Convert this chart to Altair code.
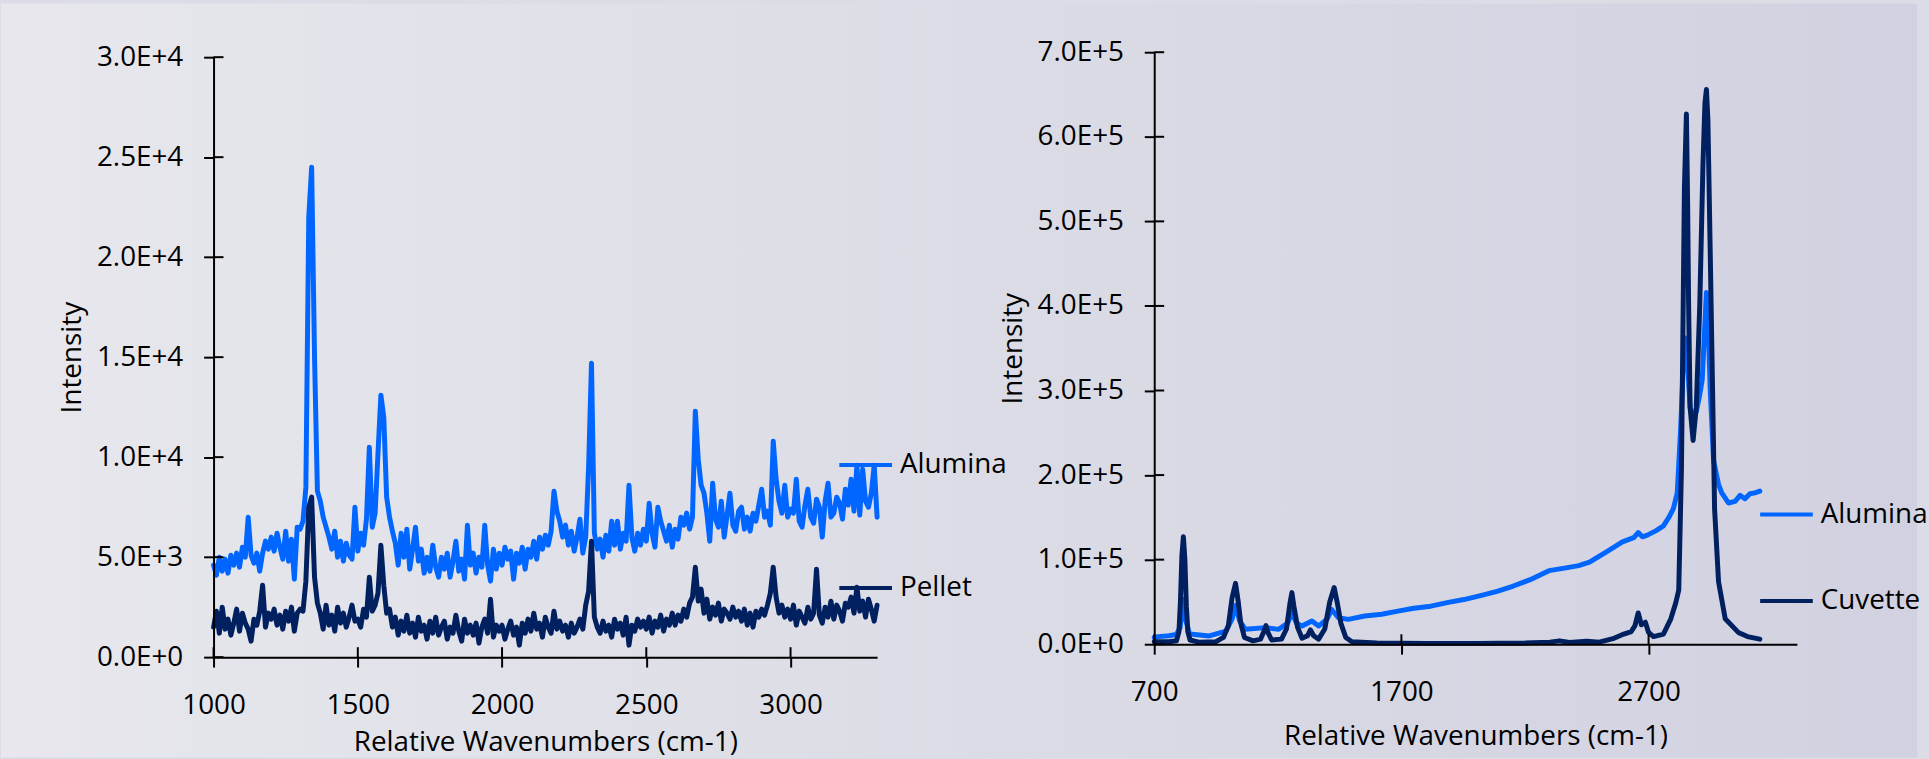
import altair as alt
import pandas as pd

FONT = "Open Sans"
ALU = "#0066ff"
NAVY = "#002060"
TXT = "#000000"

# ---------------- left panel data (intensity in thousands) ----------------
left_wn = list(range(1000, 3301, 10))
left_alumina_k = [
    4.6, 4.1, 5.0, 4.3, 4.9, 4.2, 5.1, 4.6, 5.2, 4.5,
    5.5, 5.0, 7.0, 5.1, 4.7, 5.2, 4.3, 5.2, 5.8, 5.4,
    6.0, 5.3, 6.2, 5.5, 4.9, 6.3, 4.8, 5.9, 3.9, 6.5,
    6.4, 6.8, 8.5, 22.0, 24.5, 15.0, 8.3, 7.8, 7.0, 6.5,
    6.0, 5.4, 6.3, 5.0, 5.8, 4.8, 5.7, 5.1, 4.9, 7.5,
    5.3, 6.2, 5.6, 6.9, 10.5, 6.5, 7.2, 10.2, 13.1, 12.0,
    8.0, 7.0, 6.3, 5.7, 4.6, 6.2, 5.0, 6.4, 4.4, 5.4,
    6.5, 4.8, 5.4, 4.2, 5.0, 4.3, 5.6, 4.5, 4.0, 5.0,
    4.4, 5.2, 4.0, 4.8, 5.8, 4.3, 4.9, 3.9, 6.6, 4.6,
    5.2, 4.2, 5.0, 4.5, 6.6, 4.6, 3.8, 5.4, 4.4, 5.2,
    4.6, 5.5, 4.9, 5.3, 3.9, 5.2, 4.7, 5.5, 4.4, 5.4,
    5.0, 5.8, 4.9, 6.0, 5.4, 6.1, 5.6, 6.3, 8.3, 7.3,
    6.8, 6.0, 6.6, 5.6, 6.3, 5.3, 6.0, 6.9, 5.2, 6.0,
    9.5, 14.7, 6.2, 5.4, 5.9, 5.0, 6.1, 5.3, 6.8, 5.6,
    6.8, 5.4, 6.2, 5.8, 8.6, 6.0, 5.3, 6.2, 5.6, 6.4,
    5.8, 7.7, 6.2, 5.5, 7.5, 6.8, 6.3, 5.8, 6.6, 5.5,
    6.4, 5.9, 7.0, 6.6, 7.2, 6.4, 7.0, 12.3, 9.9, 8.6,
    8.2, 7.2, 5.8, 8.7, 6.9, 6.5, 7.8, 6.0, 7.1, 8.2,
    6.6, 6.3, 7.3, 7.5, 6.4, 7.0, 6.3, 7.2, 6.8, 7.6,
    8.4, 7.0, 7.3, 6.6, 10.8, 8.9, 7.8, 7.2, 8.6, 7.0,
    7.4, 7.2, 8.9, 6.8, 6.5, 7.6, 8.4, 7.0, 6.7, 7.9,
    7.5, 6.0, 7.8, 8.7, 7.0, 7.2, 8.0, 7.7, 6.9, 8.4,
    7.6, 8.9, 7.3, 9.6, 7.1, 9.4, 7.8, 7.5, 8.2, 9.6,
    7.0,
]
left_pellet_k = [
    1.5, 2.3, 1.2, 2.5, 1.4, 1.9, 1.1, 1.7, 2.4, 1.3,
    2.2, 1.7, 1.4, 0.8, 1.9, 1.6, 2.3, 3.6, 1.5, 2.2,
    1.9, 2.4, 1.6, 2.1, 1.4, 2.3, 1.8, 2.5, 1.3, 2.2,
    2.4, 2.3, 3.8, 7.5, 8.0, 4.0, 2.7, 2.2, 1.4, 2.6,
    1.6, 2.1, 1.3, 2.5, 1.7, 2.2, 1.5, 2.0, 2.6, 1.8,
    1.9, 1.5, 2.4, 2.0, 4.0, 2.3, 2.6, 3.2, 5.6, 3.6,
    2.2, 2.4, 1.5, 2.0, 1.1, 1.8, 1.3, 2.1, 1.2, 1.7,
    1.0, 2.0, 1.3, 1.6, 0.9, 1.8, 1.2, 2.0, 1.1, 1.5,
    1.8, 0.9, 1.5, 1.2, 2.1, 1.3, 0.8, 1.9, 1.2, 1.6,
    1.1, 1.7, 0.7, 1.5, 1.9, 1.2, 2.9, 1.0, 1.6, 1.3,
    1.6, 0.9, 1.4, 1.8, 1.1, 1.5, 0.6, 1.7, 1.2, 1.9,
    1.3, 2.2, 1.4, 1.7, 1.0, 2.0, 1.5, 1.2, 2.3, 1.4,
    1.8, 1.3, 1.6, 1.0, 1.7, 1.2, 1.5, 1.9, 1.4, 2.6,
    3.3, 5.8, 2.0, 1.5, 1.2, 1.8, 1.3, 1.6, 1.0, 1.9,
    1.4, 1.7, 1.1, 2.0, 0.6, 1.6, 1.3, 1.9, 1.5, 1.8,
    1.4, 2.0, 1.2, 1.8, 1.5, 2.1, 1.3, 1.9, 1.6, 2.2,
    1.6, 2.1, 1.8, 2.4, 2.0, 2.7, 3.0, 4.5, 2.8, 3.4,
    2.2, 2.9, 1.9, 2.5, 2.1, 2.7, 1.8, 2.4, 2.2, 1.9,
    2.5, 2.0, 2.3, 1.8, 2.4, 1.6, 2.2, 1.5, 2.3, 2.0,
    2.4, 2.1, 2.6, 3.2, 4.5, 3.0, 2.2, 2.6, 2.0, 2.4,
    1.9, 2.6, 1.6, 2.3, 2.0, 1.7, 2.5, 1.9, 2.2, 4.4,
    2.1, 1.7, 2.5, 2.0, 2.8, 1.9, 2.6, 2.3, 1.8, 2.7,
    2.5, 3.0, 2.2, 3.5, 2.3, 2.8, 2.0, 2.9, 2.4, 1.8,
    2.6,
]

# ---------------- right panel data (intensity in thousands) ----------------
right_cuv_wn = [700, 760, 790, 800, 806, 812, 818, 824, 830, 836, 845, 880, 950, 980,
                1000, 1015, 1029, 1040, 1050, 1065, 1100, 1130, 1145, 1152, 1160, 1175,
                1215, 1235, 1250, 1257, 1265, 1280, 1298, 1320, 1332, 1345, 1365, 1390,
                1410, 1428, 1440, 1455, 1475, 1500, 1600, 1800, 2000, 2200, 2300, 2340,
                2380, 2450, 2500, 2560, 2600, 2630, 2645, 2658, 2671, 2687, 2700, 2720,
                2760, 2790, 2810, 2822, 2833, 2840, 2845, 2853, 2858, 2862, 2868, 2880,
                2893, 2907, 2920, 2928, 2934, 2940, 2949, 2956, 2967, 2983, 3010, 3063,
                3100, 3150]
right_cuv_k = [3, 3, 4, 15, 50, 105, 127, 100, 45, 15, 5, 2.5, 3, 8,
               22, 55, 72, 50, 25, 8, 4, 6, 16, 22, 14, 5,
               6, 18, 50, 61, 45, 20, 7, 10, 17, 10, 6, 18,
               50, 67, 50, 25, 8, 3, 1.5, 1, 1, 1.5, 2.5, 4,
               2, 3.5, 2.5, 7, 12, 15, 22, 37, 23, 26, 14, 9,
               12, 30, 49, 64, 208, 400, 540, 627, 520, 400, 280, 241,
               280, 400, 567, 640, 656, 620, 470, 350, 160, 74, 30, 14,
               9, 6]
right_alu_wn = [700, 716, 760, 790, 805, 812, 818, 826, 843, 923, 990, 1015, 1030, 1045,
                1069, 1151, 1204, 1240, 1258, 1275, 1298, 1338, 1365, 1400, 1418, 1445,
                1485, 1552, 1620, 1686, 1750, 1819, 1890, 1953, 2020, 2087, 2150, 2221,
                2297, 2360, 2417, 2461, 2528, 2594, 2640, 2658, 2675, 2695, 2729, 2760,
                2782, 2800, 2816, 2830, 2843, 2849, 2858, 2868, 2880, 2893, 2907, 2917,
                2928, 2934, 2940, 2949, 2963, 2983, 2996, 3023, 3050, 3070, 3090, 3110,
                3130, 3150]
right_alu_k = [8, 9, 10, 11.7, 20, 40, 53, 30, 12, 9.8, 15.6, 30, 46, 28,
               17.6, 19.6, 17.6, 25, 37.6, 25, 21.5, 27.4, 21.5, 30, 41, 31.3,
               29.4, 33.3, 35.5, 39.1, 42.5, 45, 49.5, 52.8, 57.5, 62.6, 68.5, 76.3,
               87, 90, 93, 97, 109, 121, 126, 132, 127, 129, 134, 140,
               150, 160, 179, 256, 350, 362, 330, 280, 270, 275, 295, 313,
               380, 416, 390, 303, 217, 189, 179, 167, 169, 176, 172, 178,
               179, 181]

left_x_ticks = [1000, 1500, 2000, 2500, 3000]
left_y_ticks = [0, 5000, 10000, 15000, 20000, 25000, 30000]
right_x_ticks = [700, 1700, 2700]
right_y_ticks = [0, 100000, 200000, 300000, 400000, 500000, 600000, 700000]

left_df = pd.DataFrame({
    "wn": left_wn + left_wn,
    "intensity": [v * 1000 for v in left_alumina_k] + [v * 1000 for v in left_pellet_k],
    "series": ["Alumina"] * len(left_wn) + ["Pellet"] * len(left_wn),
})
right_df = pd.DataFrame({
    "wn": right_alu_wn + right_cuv_wn,
    "intensity": [v * 1000 for v in right_alu_k] + [v * 1000 for v in right_cuv_k],
    "series": ["Alumina"] * len(right_alu_wn) + ["Cuvette"] * len(right_cuv_wn),
})

# ---------------- layout (pixels) ----------------
LW, LH = 668, 609      # left plot
RW, RH = 647, 596      # right plot
SPACING = 279
PAGE_W, PAGE_H = 1929, 759
ORIGIN_X, ORIGIN_Y = 214, 49

LABEL_EXPR = "replace(format(datum.value, '.1e'), 'e', 'E')"
X_TITLE = "Relative Wavenumbers (cm-1)"


def x_axis(values, title_pad):
    return alt.Axis(values=values, title=X_TITLE, grid=False, format="d", zindex=2,
                    tickSize=10, tickWidth=2, tickColor="black",
                    domainColor="black", domainWidth=2,
                    labelFont=FONT, labelFontSize=28, labelColor=TXT, labelPadding=25,
                    labelFlush=False, labelOverlap=False,
                    titleFont=FONT, titleFontSize=28, titleFontWeight="normal",
                    titleColor=TXT, titlePadding=title_pad)


def y_axis(values):
    return alt.Axis(values=values, title="Intensity", grid=False, labelExpr=LABEL_EXPR,
                    zindex=2,
                    tickSize=10, tickWidth=2, tickColor="black",
                    domainColor="black", domainWidth=2,
                    labelFont=FONT, labelFontSize=28, labelColor=TXT, labelPadding=21,
                    labelOverlap=False,
                    titleFont=FONT, titleFontSize=28, titleFontWeight="normal",
                    titleColor=TXT, titlePadding=10)


def legend(x, y, row_pad):
    return alt.Legend(orient="none", legendX=x, legendY=y, title=None, padding=0,
                      symbolType="stroke", symbolSize=2809, symbolStrokeWidth=4,
                      labelFont=FONT, labelFontSize=28, labelColor=TXT, labelOffset=6,
                      rowPadding=row_pad, labelLimit=400)


gradient = alt.LinearGradient(
    gradient="linear",
    stops=[alt.GradientStop(color="#e7e7ed", offset=0),
           alt.GradientStop(color="#dcdce6", offset=0.5),
           alt.GradientStop(color="#d1d1e1", offset=1)],
    x1=0, x2=1, y1=0, y2=0,
)

bg = alt.Chart(alt.Data(values=[{"k": 0}])).mark_rect(fill=gradient, strokeWidth=0).encode(
    x=alt.value(-ORIGIN_X), x2=alt.value(PAGE_W - ORIGIN_X),
    y=alt.value(-ORIGIN_Y), y2=alt.value(PAGE_H - ORIGIN_Y),
)


def panel(df, x_dom, y_dom, y_range, h, xt, yt, dom, leg, title_pad):
    xs = alt.Scale(domain=x_dom, nice=False, zero=False)
    ys = alt.Scale(domain=y_dom, nice=False, zero=False, range=y_range)
    xa = x_axis(xt, title_pad)
    ya = y_axis(yt)
    lines = alt.Chart(df).mark_line(strokeWidth=5, strokeJoin="round", strokeCap="round").encode(
        x=alt.X("wn:Q", scale=xs, axis=xa),
        y=alt.Y("intensity:Q", scale=ys, axis=ya),
        color=alt.Color("series:N", scale=alt.Scale(domain=dom, range=[ALU, NAVY]), legend=leg),
        detail="series:N",
    )
    ytick = alt.Chart(pd.DataFrame({"v": yt})).mark_rule(color="black", strokeWidth=2).encode(
        y=alt.Y("v:Q", scale=ys, axis=ya, title="Intensity"), x=alt.value(0), x2=alt.value(10))
    xtick = alt.Chart(pd.DataFrame({"v": xt})).mark_rule(color="black", strokeWidth=2).encode(
        x=alt.X("v:Q", scale=xs, axis=xa, title=X_TITLE),
        y=alt.value(h - 10), y2=alt.value(h))
    return lines, ytick, xtick


l_lines, l_ytick, l_xtick = panel(left_df, [1000, 3300], [0, 30000], [LH, 5], LH,
                                  left_x_ticks, left_y_ticks, ["Alumina", "Pellet"],
                                  legend(628, 387, 81), 9)
left = alt.layer(bg, l_lines, l_ytick, l_xtick).properties(width=LW, height=LH)

r_lines, r_ytick, r_xtick = panel(right_df, [700, 3300], [0, 700000], [RH, 0], RH,
                                  right_x_ticks, right_y_ticks, ["Alumina", "Cuvette"],
                                  legend(608, 437, 44), 16)
right = alt.layer(r_lines, r_ytick, r_xtick).properties(width=RW, height=RH)

chart = alt.hconcat(left, right, spacing=SPACING, bounds="flush").resolve_scale(
    color="independent"
).properties(padding=0, background="#dcdce6").configure_view(stroke="transparent")

chart.save("out.html", embed_options={"renderer": "svg", "actions": False})
